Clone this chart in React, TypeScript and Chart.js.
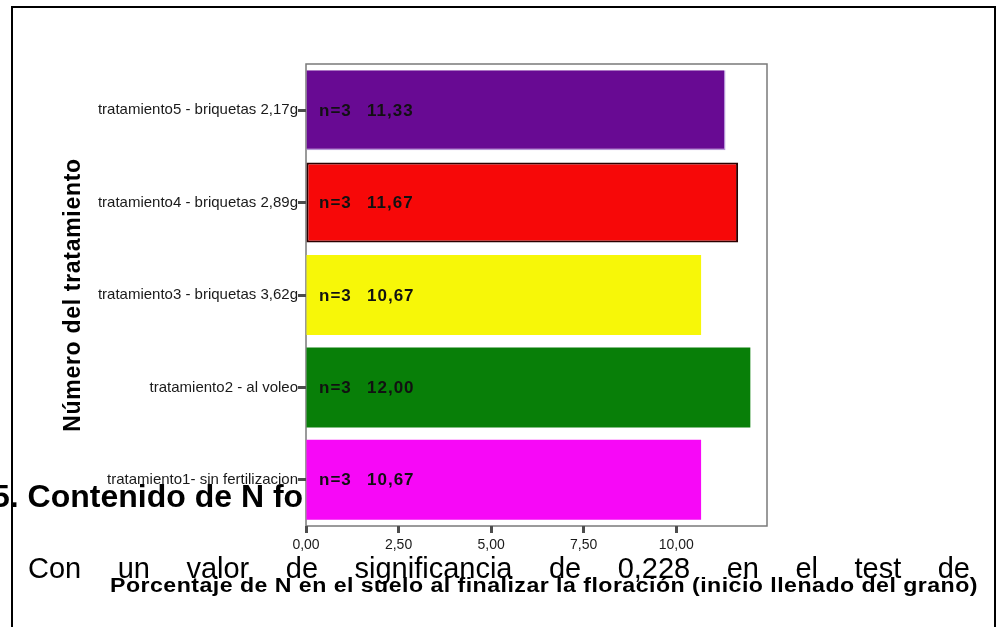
import * as React from 'react';
import { useEffect, useRef } from 'react';
import { Chart, registerables } from 'chart.js';

Chart.register(...registerables);

// data
const TREATMENTS = [
  'tratamiento5 - briquetas 2,17g',
  'tratamiento4 - briquetas 2,89g',
  'tratamiento3 - briquetas 3,62g',
  'tratamiento2 - al voleo',
  'tratamiento1- sin fertilizacion',
];
const N_PERCENT = [11.33, 11.67, 10.67, 12.0, 10.67];
const N_SAMPLES = [3, 3, 3, 3, 3];
const X_TICKS = [0, 2.5, 5, 7.5, 10];

const Y_TITLE = 'Número del tratamiento';
const X_TITLE = 'Porcentaje de N en el suelo al finalizar la floración (inicio llenado del grano)';
const HEADING = '5. Contenido de N foliar';
const PARAGRAPH = 'Con un valor de significancia de 0,228 en el test de';

const BAR_COLORS = ['#680a93', '#f70808', '#f7f708', '#087f08', '#f708f7'];
const BAR_EDGES = ['#b898d8', '#2a0000', '#f7f708', '#087f08', '#f708f7'];

const FONT = '"Liberation Sans", Arial, sans-serif';
const fmt = (v: number) => v.toFixed(2).replace('.', ',');

const pagePlugin = {
  id: 'page',
  beforeDraw(chart: any) {
    const { ctx, chartArea: a } = chart;
    ctx.save();
    ctx.fillStyle = '#fff';
    ctx.fillRect(0, 0, chart.width, chart.height);
    ctx.fillStyle = '#000';
    ctx.textBaseline = 'alphabetic';

    // heading of the document, hidden by the chart on the right
    ctx.save();
    ctx.beginPath();
    ctx.rect(0, 0, a.left - 4, chart.height);
    ctx.clip();
    ctx.font = `bold 32px ${FONT}`;
    ctx.fillText(HEADING, -8, 507);
    ctx.restore();

    // justified paragraph line
    ctx.font = `29px ${FONT}`;
    const words = PARAGRAPH.split(' ');
    const widths = words.map((w) => ctx.measureText(w).width);
    const total = widths.reduce((s, w) => s + w, 0);
    const gap = (970 - 28 - total) / (words.length - 1);
    let x = 28;
    words.forEach((w, i) => {
      ctx.fillText(w, x, 578);
      x += widths[i] + gap;
    });

    // page frame
    ctx.strokeStyle = '#000';
    ctx.lineWidth = 2;
    ctx.beginPath();
    ctx.moveTo(12, 627);
    ctx.lineTo(12, 7);
    ctx.lineTo(995, 7);
    ctx.lineTo(995, 627);
    ctx.stroke();

    // plot box
    ctx.fillStyle = '#fff';
    ctx.fillRect(a.left, a.top, a.right - a.left, a.bottom - a.top);
    ctx.strokeStyle = '#7a7a7a';
    ctx.lineWidth = 1.5;
    ctx.strokeRect(a.left, a.top, a.right - a.left, a.bottom - a.top);
    ctx.restore();
  },
  afterDatasetsDraw(chart: any) {
    const { ctx, chartArea: a } = chart;
    const xs = chart.scales.x;
    const ys = chart.scales.y;
    ctx.save();

    // category labels
    ctx.font = `15px ${FONT}`;
    ctx.fillStyle = '#1a1a1a';
    ctx.textAlign = 'right';
    ctx.textBaseline = 'middle';
    TREATMENTS.forEach((t, i) => ctx.fillText(t, a.left - 8, ys.getPixelForValue(i)));

    // n and mean inside each bar
    ctx.font = `bold 17px ${FONT}`;
    ctx.letterSpacing = '1px';
    ctx.textAlign = 'left';
    ctx.fillStyle = '#111';
    N_PERCENT.forEach((v, i) => {
      const y = ys.getPixelForValue(i) + 1;
      const x0 = xs.getPixelForValue(0);
      ctx.fillText(`n=${N_SAMPLES[i]}`, x0 + 13, y);
      ctx.fillText(fmt(v), x0 + 61, y);
    });

    // y title
    ctx.save();
    ctx.font = `bold 23px ${FONT}`;
    ctx.letterSpacing = '0.7px';
    ctx.fillStyle = '#000';
    ctx.textAlign = 'center';
    ctx.textBaseline = 'alphabetic';
    ctx.translate(80, (a.top + a.bottom) / 2);
    ctx.rotate(-Math.PI / 2);
    ctx.fillText(Y_TITLE, 0, 0);
    ctx.restore();

    // x title, stretched to its width in the picture
    ctx.save();
    ctx.font = `bold 20px ${FONT}`;
    ctx.letterSpacing = '0.4px';
    const w = ctx.measureText(X_TITLE).width;
    ctx.fillStyle = '#000';
    ctx.textAlign = 'left';
    ctx.textBaseline = 'alphabetic';
    ctx.translate(110, 592);
    ctx.scale(868 / w, 1);
    ctx.fillText(X_TITLE, 0, 0);
    ctx.restore();
    ctx.restore();
  },
};

export default function App() {
  const canvasRef = useRef<HTMLCanvasElement>(null);

  useEffect(() => {
    document.body.style.margin = '0';
    const chart = new Chart(canvasRef.current!, {
      type: 'bar',
      data: {
        labels: TREATMENTS,
        datasets: [
          {
            data: N_PERCENT,
            backgroundColor: BAR_COLORS,
            borderColor: BAR_EDGES,
            borderWidth: (c: any) =>
              c.dataIndex === 0 ? { top: 0, left: 0, right: 1.5, bottom: 1.5 } : c.dataIndex === 1 ? 2 : 0,
            borderSkipped: (c: any) => (c.dataIndex === 1 ? false : 'start'),
            barPercentage: 0.866,
            categoryPercentage: 1,
          } as any,
        ],
      },
      options: {
        indexAxis: 'y',
        responsive: false,
        animation: false,
        layout: { padding: { left: 0, top: 64, right: 231, bottom: 0 } },
        plugins: { legend: { display: false }, tooltip: { enabled: false } },
        scales: {
          x: {
            min: 0,
            max: 12.45,
            afterBuildTicks: (s: any) => {
              s.ticks = X_TICKS.map((v) => ({ value: v }));
            },
            afterFit: (s: any) => {
              s.height = 101;
            },
            ticks: {
              callback: (v: any) => fmt(Number(v)),
              font: { family: FONT, size: 14 },
              color: '#1a1a1a',
              padding: 4,
              maxRotation: 0,
            },
            grid: { drawOnChartArea: false, tickLength: 7, tickWidth: 3, tickColor: '#4d4d4d' },
            border: { display: false },
          },
          y: {
            afterFit: (s: any) => {
              s.width = 306;
            },
            ticks: { display: false },
            grid: { drawOnChartArea: false, offset: false, tickLength: 8, tickWidth: 3, tickColor: '#4d4d4d' },
            border: { display: false },
          },
        },
      },
      plugins: [pagePlugin],
    } as any);
    return () => chart.destroy();
  }, []);

  return (
    <div style={{ position: 'fixed', left: 0, top: 0, width: 998, height: 627 }}>
      <canvas ref={canvasRef} width={998} height={627} />
    </div>
  );
}
